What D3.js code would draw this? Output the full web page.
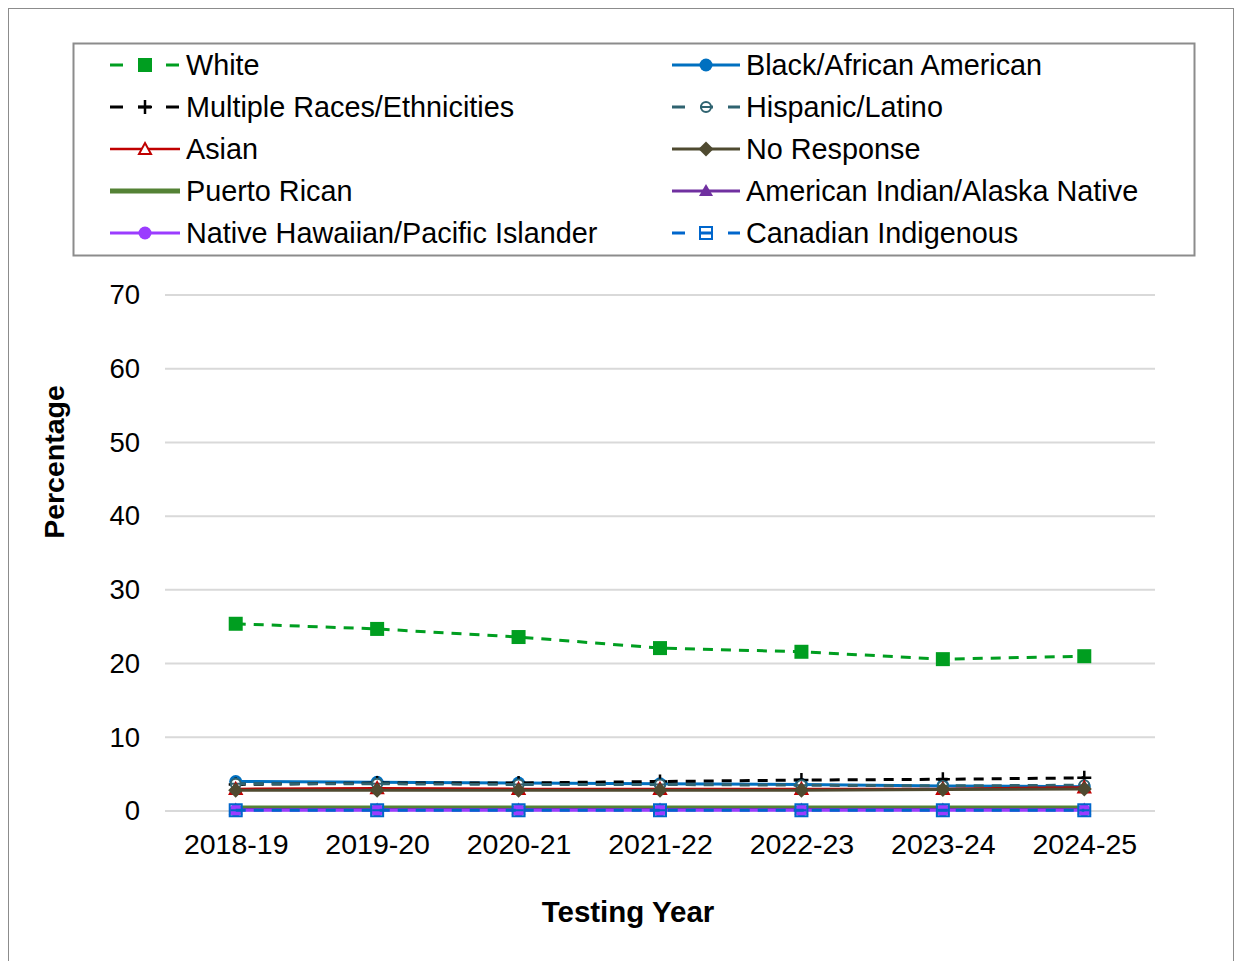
<!DOCTYPE html>
<html><head><meta charset="utf-8">
<script src="https://cdn.jsdelivr.net/npm/d3@7"></script>
<style>body{margin:0;background:#fff;font-family:"Liberation Sans",Arial,sans-serif;}</style>
</head><body><svg id="c" width="1236" height="961"></svg>
<script>
const years = ["2018-19","2019-20","2020-21","2021-22","2022-23","2023-24","2024-25"];
const yTicks = [0,10,20,30,40,50,60,70];
const white = [25.4,24.7,23.6,22.1,21.6,20.6,21.0];
const black = [4.0,3.9,3.8,3.7,3.6,3.4,3.3];
const multiple = [3.6,3.8,3.8,4.0,4.2,4.3,4.5];
const hispanic = [3.7,3.7,3.6,3.6,3.5,3.4,3.5];
const asian = [3.0,3.1,3.0,3.0,3.0,3.0,3.2];
const noResponse = [2.8,2.8,2.8,2.8,2.8,2.9,3.0];
const puertoRican = [0.4,0.4,0.4,0.4,0.4,0.4,0.4];
const amIndian = [0.2,0.2,0.2,0.2,0.2,0.2,0.2];
const nhpi = [0.1,0.1,0.1,0.1,0.1,0.1,0.1];
const canadian = [0.1,0.1,0.1,0.1,0.1,0.1,0.1];

const series = [
 {name:"White", values:white, color:"#009e20", dash:"10,8", width:3, marker:"square"},
 {name:"Black/African American", values:black, color:"#0070c0", dash:null, width:3, marker:"circle"},
 {name:"Multiple Races/Ethnicities", values:multiple, color:"#000000", dash:"10,8", width:3, marker:"plus"},
 {name:"Hispanic/Latino", values:hispanic, color:"#2f6370", dash:"10,8", width:3, marker:"circleBar"},
 {name:"Asian", values:asian, color:"#c00000", dash:null, width:2.5, marker:"triangleOpen"},
 {name:"No Response", values:noResponse, color:"#4f4a30", dash:null, width:3, marker:"diamond"},
 {name:"Puerto Rican", values:puertoRican, color:"#548235", dash:null, width:5, marker:null},
 {name:"American Indian/Alaska Native", values:amIndian, color:"#7030a0", dash:null, width:3, marker:"triangle"},
 {name:"Native Hawaiian/Pacific Islander", values:nhpi, color:"#9b3cff", dash:null, width:3, marker:"circle"},
 {name:"Canadian Indigenous", values:canadian, color:"#0066cc", dash:"10,8", width:3, marker:"squareBar"}
];
const legendOrder = ["White","Black/African American","Multiple Races/Ethnicities","Hispanic/Latino","Asian","No Response","Puerto Rican","American Indian/Alaska Native","Native Hawaiian/Pacific Islander","Canadian Indigenous"];

const FONT = "Liberation Sans, Arial, sans-serif";
const svg = d3.select("#c");
svg.append("rect").attr("x",8.5).attr("y",8.5).attr("width",1225).attr("height",970)
  .attr("fill","none").attr("stroke","#8c8c8c").attr("stroke-width",1);

const L=165,R=1155,T=295,B=811;
const x = d3.scalePoint().domain(years).range([L,R]).padding(0.5);
const y = d3.scaleLinear().domain([0,70]).range([B,T]);

svg.append("g").selectAll("line").data(yTicks).join("line")
  .attr("x1",L).attr("x2",R).attr("y1",d=>y(d)).attr("y2",d=>y(d))
  .attr("stroke","#d9d9d9").attr("stroke-width",2);

const yAxis = svg.append("g").attr("transform",`translate(${L},0)`)
  .call(d3.axisLeft(y).tickValues(yTicks).tickSize(0).tickPadding(25));
yAxis.select(".domain").remove();
yAxis.selectAll("text").attr("font-size",27.5).attr("font-family",FONT).attr("fill","#000");

const xAxis = svg.append("g").attr("transform",`translate(0,${B})`)
  .call(d3.axisBottom(x).tickSize(0).tickPadding(23));
xAxis.select(".domain").remove();
xAxis.selectAll("text").attr("font-size",28.5).attr("font-family",FONT).attr("fill","#000");

svg.append("text").attr("x",628).attr("y",922).attr("text-anchor","middle")
  .attr("font-size",29.5).attr("font-weight","bold").attr("font-family",FONT).text("Testing Year");
svg.append("text").attr("transform","translate(64,462) rotate(-90)").attr("text-anchor","middle")
  .attr("font-size",28.5).attr("font-weight","bold").attr("font-family",FONT).text("Percentage");

function drawMarker(g, type, cx, cy, color){
  if(!type) return;
  if(type==="square"){
    g.append("rect").attr("x",cx-7).attr("y",cy-7).attr("width",14).attr("height",14).attr("fill",color);
  } else if(type==="circle"){
    g.append("circle").attr("cx",cx).attr("cy",cy).attr("r",6.5).attr("fill",color);
  } else if(type==="plus"){
    g.append("path").attr("d",`M${cx-7},${cy}H${cx+7}M${cx},${cy-7}V${cy+7}`).attr("stroke",color).attr("stroke-width",2.5);
  } else if(type==="circleBar"){
    g.append("circle").attr("cx",cx).attr("cy",cy).attr("r",5).attr("fill","#fff").attr("stroke",color).attr("stroke-width",2);
    g.append("line").attr("x1",cx-5).attr("x2",cx+5).attr("y1",cy).attr("y2",cy).attr("stroke",color).attr("stroke-width",2);
  } else if(type==="triangleOpen"){
    g.append("path").attr("d",`M${cx},${cy-6}L${cx+6},${cy+5}L${cx-6},${cy+5}Z`).attr("fill","#fff").attr("stroke",color).attr("stroke-width",2);
  } else if(type==="triangle"){
    g.append("path").attr("d",`M${cx},${cy-7}L${cx+7},${cy+5}L${cx-7},${cy+5}Z`).attr("fill",color);
  } else if(type==="diamond"){
    g.append("path").attr("d",`M${cx},${cy-7.5}L${cx+7.5},${cy}L${cx},${cy+7.5}L${cx-7.5},${cy}Z`).attr("fill",color);
  } else if(type==="squareBar"){
    g.append("rect").attr("x",cx-6).attr("y",cy-6).attr("width",12).attr("height",12).attr("fill","none").attr("stroke",color).attr("stroke-width",2);
    g.append("line").attr("x1",cx-5).attr("x2",cx+5).attr("y1",cy).attr("y2",cy).attr("stroke",color).attr("stroke-width",2);
  }
}

const line = d3.line().x((d,i)=>x(years[i])).y(d=>y(d));
const plot = svg.append("g");
series.forEach(s=>{
  plot.append("path").attr("d",line(s.values)).attr("fill","none")
    .attr("stroke",s.color).attr("stroke-width",s.width)
    .attr("stroke-dasharray",s.dash);
  s.values.forEach((v,i)=>drawMarker(plot,s.marker,x(years[i]),y(v),s.color));
});

svg.append("rect").attr("x",73.5).attr("y",43.5).attr("width",1121).attr("height",212)
  .attr("fill","#fff").attr("stroke","#8c8c8c").attr("stroke-width",2);
const leg = svg.append("g");
legendOrder.forEach((n,i)=>{
  const s = series.find(d=>d.name===n);
  const col = i%2, row = Math.floor(i/2);
  const x0 = col===0?110:672, x1 = col===0?180:740;
  const cy = 65+row*42;
  const cx = (x0+x1)/2;
  leg.append("line").attr("x1",x0).attr("x2",x1).attr("y1",cy).attr("y2",cy)
    .attr("stroke",s.color).attr("stroke-width",s.width)
    .attr("stroke-dasharray",s.dash?"13,15":null);
  drawMarker(leg,s.marker,cx,cy,s.color);
  leg.append("text").attr("x",x1+6).attr("y",cy).attr("dy","0.36em")
    .attr("font-size",28.8).attr("font-family",FONT).attr("fill","#000").text(n);
});
</script></body></html>
